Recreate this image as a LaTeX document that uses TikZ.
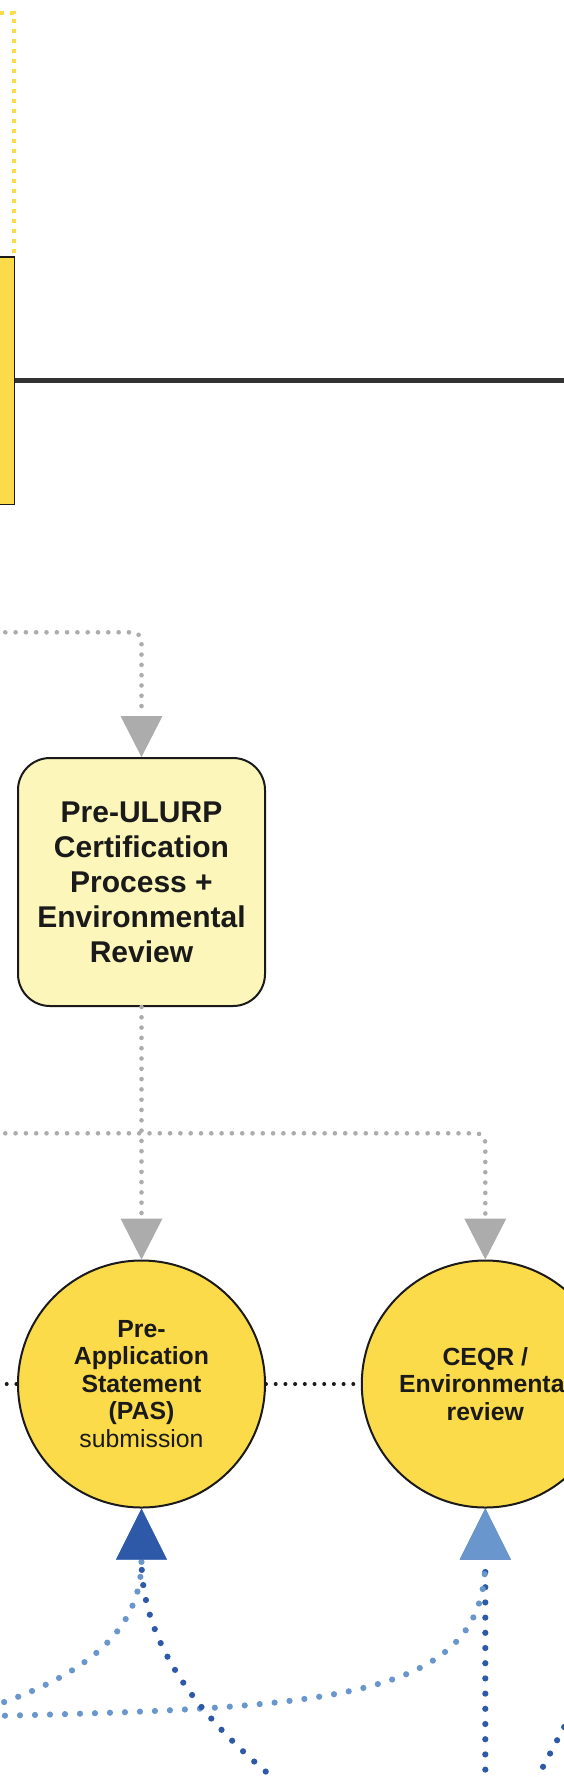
\documentclass[tikz,border=0pt]{standalone}
\usepackage{fontspec}
\setmainfont{Liberation Sans}
\usetikzlibrary{arrows.meta}
\definecolor{yel}{RGB}{252,219,74}
\definecolor{pale}{RGB}{252,246,186}
\definecolor{grayL}{RGB}{172,172,172}
\definecolor{darkB}{RGB}{46,88,168}
\definecolor{lightB}{RGB}{106,150,206}
\definecolor{ink}{RGB}{26,26,26}
\definecolor{railc}{RGB}{51,51,51}
\tikzset{
  ybar/.style={rectangle, draw=ink, line width=1.5pt, fill=yel, inner sep=0pt},
  certbox/.style={rectangle, rounded corners=32pt, draw=ink, line width=2pt, fill=pale,
    minimum width=247pt, minimum height=248pt, inner sep=0pt, align=center, text=ink,
    font=\bfseries\fontsize{30}{35}\selectfont},
  circnode/.style={circle, draw=ink, line width=2pt, fill=yel, minimum size=247pt,
    inner sep=0pt, align=center, text=ink, font=\fontsize{24.8}{27.5}\selectfont},
  yeldots/.style={draw=yel, line width=4pt, line cap=butt, dash pattern=on 4pt off 6pt},
  rail/.style={draw=railc, line width=4.5pt},
  grayflow/.style={draw=grayL, line width=4.6pt, line cap=round, dash pattern=on 0pt off 10.3pt,
    rounded corners=9pt, -{Triangle[width=42pt,length=41pt,line width=0pt]}},
  blkdots/.style={draw=ink, line width=4pt, line cap=round, dash pattern=on 0pt off 9.7pt},
  darkflow/.style={draw=darkB, line width=6.2pt, line cap=round, dash pattern=on 0pt off 15.2pt,
    -{Triangle[width=51pt,length=51pt,line width=0pt]}},
  lightflow/.style={draw=lightB, line width=6.2pt, line cap=round, dash pattern=on 0pt off 15pt,
    -{Triangle[width=51pt,length=51pt,line width=0pt]}},
  darkdots/.style={draw=darkB, line width=6.2pt, line cap=round, dash pattern=on 0pt off 15pt}
}
\begin{document}
\begin{tikzpicture}[x=1pt,y=-1pt]
\useasboundingbox (0,0) rectangle (564,1777);
\fill[white] (0,0) rectangle (564,1777);
\clip (0,0) rectangle (564,1777);

% left yellow bar and rail
\node[ybar, minimum width=33pt, minimum height=247.5pt] (bar) at (-2,380.5) {};
\coordinate (ytop) at (0,12.7);
\draw[yeldots] (ytop) -| ([xshift=-1.5pt]bar.north east);
\coordinate (railend) at (570,380.5);
\draw[rail] (bar.east) -- (railend);

% main nodes
\node[certbox] (cert) at (141.5,882) {Pre-ULURP\\Certification\\Process +\\Environmental\\Review};
\node[circnode] (pas) at (141.5,1384) {\textbf{Pre-}\\\textbf{Application}\\\textbf{Statement}\\\textbf{(PAS)}\\submission};
\node[circnode] (ceqr) at (485.3,1384) {\textbf{CEQR /}\\\textbf{Environmental}\\\textbf{review}};

% gray connectors
\coordinate (g1) at (-5,632.3);
\draw[grayflow] (g1) -| (cert.north);
\draw[grayflow] (cert.south) -- (pas.north);
\coordinate (g2) at (-5,1133.3);
\draw[grayflow] (g2) -| (ceqr.north);

% black dotted links
\coordinate (b0) at (-3,1384);
\draw[blkdots] (b0) -- (pas.west);
\draw[blkdots] (pas.east) -- (ceqr.west);

% blue connectors
\coordinate (dv) at (485.3,1800);
\coordinate (lc) at (-10,1716);
\coordinate (lb) at (-10,1707);
\coordinate (dA) at (301.3,1800);
\coordinate (e1) at (536,1780);
\coordinate (e2) at (570,1716);
\draw[darkflow] (dv) -- (ceqr.south);
\draw[lightflow] (lc) .. controls (330,1708) and (485.3,1700) .. (485.3,1560) -- (ceqr.south);
\draw[lightflow] (lb) .. controls (70,1680) and (141.5,1640) .. (141.5,1560) -- (pas.south);
\draw[darkflow] (dA) .. controls (194.9,1720) and (141.5,1640) .. (141.5,1560) -- (pas.south);
\draw[darkdots] (e1) -- (e2);
\end{tikzpicture}
\end{document}
